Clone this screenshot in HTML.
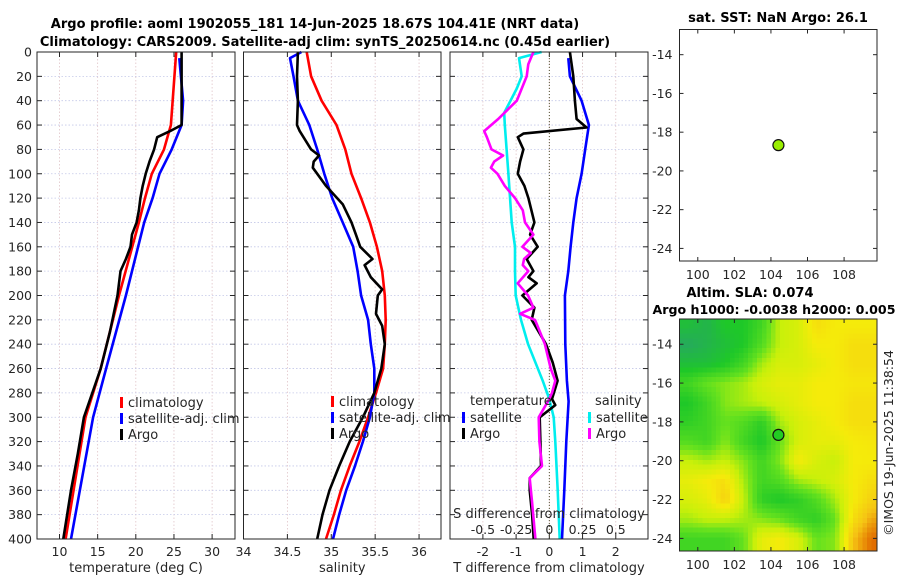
<!DOCTYPE html>
<html><head><meta charset="utf-8">
<style>
body{margin:0;background:#fff;}
svg{display:block;font-family:"DejaVu Sans","Liberation Sans",sans-serif;}
</style></head>
<body>
<svg id="fig" width="900" height="580" viewBox="0 0 900 580" xmlns="http://www.w3.org/2000/svg">
<defs>
<clipPath id="mapclip"><rect x="680" y="319" width="197" height="232"/></clipPath>
</defs>
<text x="315" y="28" text-anchor="middle" font-size="13" font-weight="bold">Argo profile: aoml 1902055_181 14-Jun-2025 18.67S 104.41E (NRT data)</text>
<text x="325" y="46" text-anchor="middle" font-size="13" font-weight="bold">Climatology: CARS2009. Satellite-adj clim: synTS_20250614.nc (0.45d earlier)</text>
<text x="778" y="22" text-anchor="middle" font-size="13" font-weight="bold">sat. SST: NaN Argo: 26.1</text>
<text x="750" y="297" text-anchor="middle" font-size="13" font-weight="bold">Altim. SLA: 0.074</text>
<text x="774" y="314" text-anchor="middle" font-size="12.6" font-weight="bold">Argo h1000: -0.0038 h2000: 0.005</text>
<text x="0" y="0" transform="translate(893,443) rotate(-90)" text-anchor="middle" font-size="12.5" fill="#262626">©IMOS 19-Jun-2025 11:38:54</text>
<g id="plots"></g>
</svg>
<script>
// ---- Panel 1: temperature ----
const tClimDepth=[0,60,80,100,120,140,200,260,300,400];
const tClim=[25.3,24.6,23.7,22.1,21.2,20.4,17.8,15.4,13.4,10.8];
const tSatDepth=[5,40,60,80,100,120,140,200,260,300,400];
const tSat=[25.7,26.2,26.0,24.7,23.1,22.2,21.1,18.7,16.1,14.4,11.5];
const tArgoDepth=[0,60,65,70,80,90,100,110,120,130,140,150,160,170,180,200,230,260,300,330,360,400];
const tArgo=[26.0,26.0,24.5,22.8,22.4,21.8,21.3,20.9,20.6,20.4,20.1,19.5,19.3,18.7,18.0,17.6,16.6,15.4,13.2,12.4,11.5,10.5];
const tTicks=[10,15,20,25,30];
// ---- Panel 2: salinity ----
const sClimDepth=[0,20,40,60,80,100,120,140,160,180,200,220,240,260,280,300,320,340,360,380,400];
const sClim=[34.72,34.77,34.89,35.06,35.16,35.23,35.34,35.44,35.52,35.58,35.61,35.62,35.61,35.59,35.51,35.42,35.32,35.21,35.11,35.03,34.94];
const sSatDepth=[0,5,20,40,60,80,100,120,140,160,180,200,220,240,260,280,300,320,340,360,380,400];
const sSat=[34.66,34.53,34.57,34.62,34.75,34.84,34.92,35.01,35.13,35.25,35.30,35.34,35.42,35.45,35.49,35.49,35.44,35.36,35.27,35.17,35.09,35.02];
const sArgoDepth=[0,20,40,60,65,80,85,90,95,110,125,140,150,160,170,175,185,195,200,215,225,240,260,280,300,320,340,360,380,400];
const sArgo=[34.62,34.61,34.62,34.61,34.64,34.77,34.86,34.80,34.79,34.94,35.13,35.23,35.28,35.33,35.47,35.38,35.45,35.58,35.53,35.51,35.58,35.61,35.57,35.49,35.36,35.21,35.09,34.98,34.90,34.84];
const sTicks=[34,34.5,35,35.5,36];
// ---- Panel 3: differences ----
const dTSatDepth=[5,20,40,60,80,100,120,140,160,180,200,240,270,287,320,360,400];
const dTSat=[0.57,0.62,0.97,1.19,1.08,0.97,0.82,0.72,0.64,0.57,0.47,0.48,0.53,0.58,0.51,0.45,0.38];
const dTArgoDepth=[0,20,40,55,62,67,70,80,90,100,110,120,140,150,160,170,180,185,190,200,210,220,240,255,270,285,290,300,320,340,350,360,380,400];
const dTArgo=[0.62,0.72,0.77,0.82,1.12,-0.78,-0.95,-0.78,-0.88,-0.95,-0.75,-0.63,-0.45,-0.58,-0.35,-0.68,-0.48,-0.63,-0.38,-0.81,-0.45,-0.53,-0.1,0.1,0.25,0.08,0.18,-0.29,-0.27,-0.25,-0.59,-0.59,-0.52,-0.47];
const dSSatDepth=[0,5,20,30,50,60,100,140,160,180,200,220,240,270,285,300,320,360,400];
const dSSat=[-0.058,-0.228,-0.208,-0.245,-0.34,-0.335,-0.308,-0.283,-0.258,-0.258,-0.253,-0.213,-0.16,-0.05,0,0.033,0.045,0.063,0.078];
const dSArgoDepth=[0,10,20,40,55,65,70,80,85,90,95,100,110,120,130,140,150,160,165,170,175,180,190,200,210,215,220,230,240,260,270,280,285,300,320,340,350,370,400];
const dSArgo=[-0.12,-0.158,-0.17,-0.245,-0.385,-0.49,-0.47,-0.435,-0.348,-0.415,-0.44,-0.39,-0.335,-0.258,-0.2,-0.183,-0.12,-0.203,-0.14,-0.19,-0.2,-0.158,-0.238,-0.16,-0.12,-0.22,-0.108,-0.07,-0.033,0.01,0.045,0.02,0,-0.08,-0.075,-0.055,-0.148,-0.13,-0.105];
const dTTicks=[-2,-1,0,1,2];
const dSTicks=[-0.5,-0.25,0,0.25,0.5];
const depthTicks=[0,20,40,60,80,100,120,140,160,180,200,220,240,260,280,300,320,340,360,380,400];
// ---- Maps ----
const argoLon=104.41, argoLat=-18.67;
const mapLonTicks=[100,102,104,106,108];
const mapLatTicks=[-14,-16,-18,-20,-22,-24];
const slaLons=[99.5,100.5,101.5,102.5,103.5,104.5,105.5,106.5,107.5,108.5,109.5];
const slaLats=[-13,-14,-15,-16,-17,-18,-19,-20,-21,-22,-23,-24];
const slaRows=[
[0.15,0.1,0.2,0.2,0.3,0.55,0.6,0.75,0.7,0.7,0.7],
[0.05,0.1,0.15,0.2,0.35,0.55,0.6,0.7,0.7,0.75,0.75],
[0.15,0.15,0.2,0.3,0.5,0.6,0.6,0.65,0.7,0.75,0.75],
[0.3,0.4,0.45,0.5,0.6,0.65,0.65,0.7,0.7,0.72,0.72],
[0.2,0.3,0.45,0.5,0.55,0.6,0.65,0.7,0.7,0.75,0.75],
[0.25,0.3,0.4,0.35,0.25,0.5,0.6,0.65,0.7,0.75,0.75],
[0.35,0.3,0.45,0.3,0.2,0.4,0.6,0.65,0.65,0.7,0.72],
[0.55,0.5,0.55,0.45,0.3,0.45,0.7,0.6,0.55,0.7,0.7],
[0.65,0.7,0.75,0.5,0.3,0.35,0.5,0.55,0.6,0.7,0.75],
[0.6,0.65,0.8,0.55,0.25,0.2,0.25,0.35,0.5,0.7,0.8],
[0.5,0.55,0.55,0.5,0.45,0.4,0.3,0.25,0.4,0.75,0.9],
[0.3,0.3,0.3,0.4,0.65,0.7,0.6,0.4,0.45,0.85,1.0]];

const NS='http://www.w3.org/2000/svg';
const root=document.getElementById('plots');
function mk(tag,attrs,parent){const e=document.createElementNS(NS,tag);for(const k in attrs)e.setAttribute(k,attrs[k]);(parent||root).appendChild(e);return e;}
const TOP=52,BOT=539;
function yD(d){return TOP+(BOT-TOP)*d/400;}

function panel(name,x0,x1,vmin,vmax,ticks,labelFmt,showY,xlabel){
  const g=mk('g',{});
  
  
  const xs=v=>x0+(x1-x0)*(v-vmin)/(vmax-vmin);
  ticks.forEach(t=>{const gl=mk('line',{x1:xs(t),x2:xs(t),y1:TOP,y2:BOT,stroke:'#e0c4c8','stroke-width':0.8,'stroke-dasharray':'1.5,2'},g);
    });
  depthTicks.forEach(d=>{const gl=mk('line',{x1:x0,x2:x1,y1:yD(d),y2:yD(d),stroke:'#c4c8e8','stroke-width':0.8,'stroke-dasharray':'1.5,2'},g);
    });
  ticks.forEach(t=>{mk('line',{x1:xs(t),x2:xs(t),y1:BOT,y2:BOT-5,stroke:'#262626'},g);mk('line',{x1:xs(t),x2:xs(t),y1:TOP,y2:TOP+5,stroke:'#262626'},g);
    if(labelFmt){const tl=mk('text',{x:xs(t),y:BOT+17,'text-anchor':'middle','font-size':12.5,fill:'#262626'},g);tl.textContent=labelFmt(t);
      }});
  depthTicks.forEach(d=>{mk('line',{x1:x0,x2:x0+5,y1:yD(d),y2:yD(d),stroke:'#262626'},g);mk('line',{x1:x1,x2:x1-5,y1:yD(d),y2:yD(d),stroke:'#262626'},g);
    if(showY){const tl=mk('text',{x:x0-5,y:yD(d)+4.5,'text-anchor':'end','font-size':12.5,fill:'#262626'},g);tl.textContent=d;
      }});
  const xl=mk('text',{x:(x0+x1)/2,y:572,'text-anchor':'middle','font-size':13,fill:'#262626'},g);xl.textContent=xlabel;
  
  return {g,xs,x0,x1};
}
function line(p,depths,vals,color,name,scale){
  const pts=depths.map((d,i)=>p.xs(vals[i]*(scale||1)).toFixed(1)+','+yD(d).toFixed(1)).join(' ');
  const l=mk('polyline',{points:pts,fill:'none',stroke:color,'stroke-width':2.6,'stroke-linejoin':'round'},p.g);
  
  
}
function frame(p){mk('rect',{x:p.x0,y:TOP,width:p.x1-p.x0,height:BOT-TOP,fill:'none',stroke:'#262626','stroke-width':1},p.g);}
function legend(g,x,y,items){items.forEach((it,i)=>{mk('rect',{x:x,y:y+i*16-10,width:3,height:11,fill:it[0]},g);
  const t=mk('text',{x:x+8,y:y+i*16,'font-size':13,fill:'#262626'},g);t.textContent=it[1];
  });}

// Panel 1
const p1=panel('temperature-panel',37,235,7.05,33,tTicks,t=>t,true,'temperature (deg C)');
line(p1,tClimDepth,tClim,'#ff0000','temp-climatology-line');
line(p1,tSatDepth,tSat,'#0000ff','temp-satellite-line');
line(p1,tArgoDepth,tArgo,'#000000','temp-argo-line');
legend(p1.g,120,407,[['#ff0000','climatology'],['#0000ff','satellite-adj. clim'],['#000','Argo']]);
frame(p1);
// Panel 2
const p2=panel('salinity-panel',243.5,441,34,36.25,sTicks,t=>t,false,'salinity');
line(p2,sClimDepth,sClim,'#ff0000','sal-climatology-line');
line(p2,sSatDepth,sSat,'#0000ff','sal-satellite-line');
line(p2,sArgoDepth,sArgo,'#000000','sal-argo-line');
legend(p2.g,331,406,[['#ff0000','climatology'],['#0000ff','satellite-adj. clim'],['#000','Argo']]);
frame(p2);
// Panel 3
const p3=panel('difference-panel',450,648,-2.99,2.97,dTTicks,t=>t,false,'T difference from climatology');
mk('line',{x1:p3.xs(0),x2:p3.xs(0),y1:TOP,y2:BOT,stroke:'#555533','stroke-width':1,'stroke-dasharray':'1,2'},p3.g);
line(p3,dSSatDepth,dSSat,'#00eeee','sal-diff-satellite-line',4);
line(p3,dTSatDepth,dTSat,'#0000ff','temp-diff-satellite-line');
line(p3,dTArgoDepth,dTArgo,'#000000','temp-diff-argo-line');
line(p3,dSArgoDepth,dSArgo,'#ff00ff','sal-diff-argo-line',4);
{const t=mk('text',{x:470,y:405,'font-size':13,fill:'#262626'},p3.g);t.textContent='temperature';}
{const t=mk('text',{x:595,y:405,'font-size':13,fill:'#262626'},p3.g);t.textContent='salinity';}
legend(p3.g,462,422,[['#0000ff','satellite'],['#000','Argo']]);
legend(p3.g,588,422,[['#00eeee','satellite'],['#ff00ff','Argo']]);
{const t=mk('text',{x:549,y:518,'text-anchor':'middle','font-size':13,fill:'#262626'},p3.g);t.textContent='S difference from climatology';}
dSTicks.forEach(s=>{const t=mk('text',{x:p3.xs(s*4),y:534,'text-anchor':'middle','font-size':12.5,fill:'#262626'},p3.g);t.textContent=s;
  });
frame(p3);

function sampleSLA(lon,lat){
  // bilinear interpolation on the grid
  let fc=(lon-slaLons[0])/(slaLons[1]-slaLons[0]);
  let fr=(slaLats[0]-lat)/(slaLats[0]-slaLats[1]);
  const nC=slaLons.length,nR=slaLats.length;
  fc=Math.max(0,Math.min(nC-1,fc)); fr=Math.max(0,Math.min(nR-1,fr));
  const c0=Math.min(nC-2,Math.floor(fc)),r0=Math.min(nR-2,Math.floor(fr));
  const a=fc-c0,b=fr-r0;
  return slaRows[r0][c0]*(1-a)*(1-b)+slaRows[r0][c0+1]*a*(1-b)+slaRows[r0+1][c0]*(1-a)*b+slaRows[r0+1][c0+1]*a*b;
}
// Maps
function map(name,y0,y1,filled){
  const g=mk('g',{});
  
  
  const x0=679.5,x1=877,lon0=99.0,lon1=109.8,lat0=-12.7,lat1=-24.65;
  const xs=v=>x0+(x1-x0)*(v-lon0)/(lon1-lon0);
  const ys=v=>y0+(y1-y0)*(v-lat0)/(lat1-lat0);
  if(filled){
    const hg=mk('g',{'clip-path':'url(#mapclip)','shape-rendering':'crispEdges'},g);
    
    
    const step=0.25;
    for(let la=lat0;la>lat1-step;la-=step){
      for(let lo=lon0;lo<lon1;lo+=step){
        const v=sampleSLA(lo+step/2,la-step/2);
        const cell=mk('rect',{x:xs(lo).toFixed(1),y:ys(la).toFixed(1),width:(xs(lo+step)-xs(lo)+0.6).toFixed(1),height:(ys(la-step)-ys(la)+0.6).toFixed(1),fill:cmap(v)},hg);
        
        
      }
    }
  }
  mk('rect',{x:x0,y:y0,width:x1-x0,height:y1-y0,fill:'none',stroke:'#262626','stroke-width':1},g);
  mapLonTicks.forEach(t=>{mk('line',{x1:xs(t),x2:xs(t),y1:y1,y2:y1-4,stroke:'#262626'},g);mk('line',{x1:xs(t),x2:xs(t),y1:y0,y2:y0+4,stroke:'#262626'},g);
    const tl=mk('text',{x:xs(t),y:y1+18,'text-anchor':'middle','font-size':12.5,fill:'#262626'},g);tl.textContent=t;
    });
  mapLatTicks.forEach(t=>{mk('line',{x1:x0,x2:x0+4,y1:ys(t),y2:ys(t),stroke:'#262626'},g);mk('line',{x1:x1,x2:x1-4,y1:ys(t),y2:ys(t),stroke:'#262626'},g);
    const tl=mk('text',{x:x0-7,y:ys(t)+4.5,'text-anchor':'end','font-size':12.5,fill:'#262626'},g);tl.textContent=t;
    });
  const c=mk('circle',{cx:xs(argoLon),cy:ys(argoLat),r:5.5,fill:filled?'#22cc22':'#99ee00',stroke:'#111','stroke-width':1.2},g);
  
  
}
function cmap(v){
  const stops=[[0,[40,160,110]],[0.2,[30,200,40]],[0.4,[100,225,30]],[0.55,[200,240,10]],[0.7,[245,235,10]],[0.85,[245,195,20]],[1,[225,110,0]]];
  for(let i=1;i<stops.length;i++){if(v<=stops[i][0]){const a=stops[i-1],b=stops[i],f=(v-a[0])/(b[0]-a[0]);
    const c=a[1].map((x,k)=>Math.round(x+(b[1][k]-x)*f));return 'rgb('+c.join(',')+')';}}
  return 'rgb(225,110,0)';
}
map('sst-map',29.5,261,false);
map('sla-map',319,551,true);
</script>
</body></html>
